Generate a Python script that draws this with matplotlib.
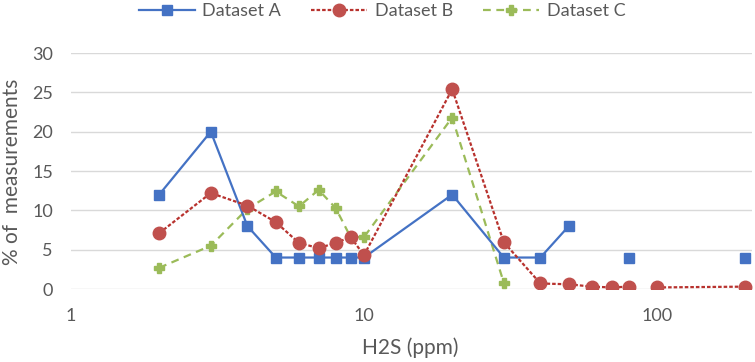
import numpy as np
import matplotlib
matplotlib.use('Agg')
from matplotlib import pyplot as plt

nan = np.nan
h2s_ppm = [2, 3, 4, 5, 6, 7, 8, 9, 10, 20, 30, 40, 50, 60, 70, 80, 90, 100, 200]
dataset_a = [12, 20, 8, 4, 4, 4, 4, 4, 4, 12, 4, 4, 8, nan, nan, 4, nan, nan, 4]
dataset_b = [7.1, 12.2, 10.6, 8.5, 5.85, 5.2, 5.85, 6.6, 4.3, 25.4, 5.95, 0.7, 0.6, 0.3, 0.2, 0.3, nan, 0.2, 0.3]
dataset_c = [2.7, 5.5, 10.2, 12.4, 10.5, 12.6, 10.3, 6.6, 6.6, 21.8, 0.8, nan, nan, nan, nan, nan, nan, nan, nan]

grey = '#595959'
plt.rcParams['font.family'] = ['Lato', 'DejaVu Sans']

fig = plt.figure(figsize=(7.55, 3.62), dpi=100)
# plot area in pixels: left 71, right 752, top 53, bottom 289
ax = fig.add_axes([71 / 755, 1 - 289 / 362, (752 - 71) / 755, (289 - 53) / 362])

ax.plot(h2s_ppm, dataset_a, color='#4472C4', lw=1.6, marker='s', ms=7,
        label='Dataset A', zorder=3)
ax.plot(h2s_ppm, dataset_b, color='#B8322E', lw=1.6, ls=(0, (1.6, 0.9)), marker='o', ms=9,
        mfc='#C0504D', mec='#C0504D', label='Dataset B', zorder=4)
ax.plot(h2s_ppm, dataset_c, color='#9BBB59', lw=1.6, ls=(0, (3.5, 2.5)), marker='P', ms=6.5,
        label='Dataset C', zorder=2)

ax.set_xscale('log')
ax.set_xlim(1, 211)
ax.set_ylim(0, 30)
ax.set_yticks(range(0, 31, 5))
ax.set_xticks([1, 10, 100])
ax.set_xticklabels(['1', '10', '100'])
ax.xaxis.set_minor_locator(matplotlib.ticker.NullLocator())
ax.grid(axis='y', color='#D9D9D9', lw=1)
ax.set_axisbelow(True)
for s in ax.spines.values():
    s.set_visible(False)
ax.tick_params(length=0, labelsize=13, colors=grey)
ax.tick_params(axis='x', pad=14)
ax.tick_params(axis='y', pad=13)

fig.text(410 / 755, 1 - 348 / 362, 'H2S (ppm)', fontsize=15, color=grey, ha='center', va='center')
fig.text(12 / 755, 1 - 172 / 362, '% of  measurements', fontsize=15, color=grey,
         ha='center', va='center', rotation=90)

fig.legend(loc='center', bbox_to_anchor=(382 / 755, 1 - 11 / 362), ncol=3, frameon=False,
           fontsize=13, labelcolor=grey, handlelength=3.1, columnspacing=1.7, handletextpad=0.4)

plt.savefig('out.png', dpi=100)
